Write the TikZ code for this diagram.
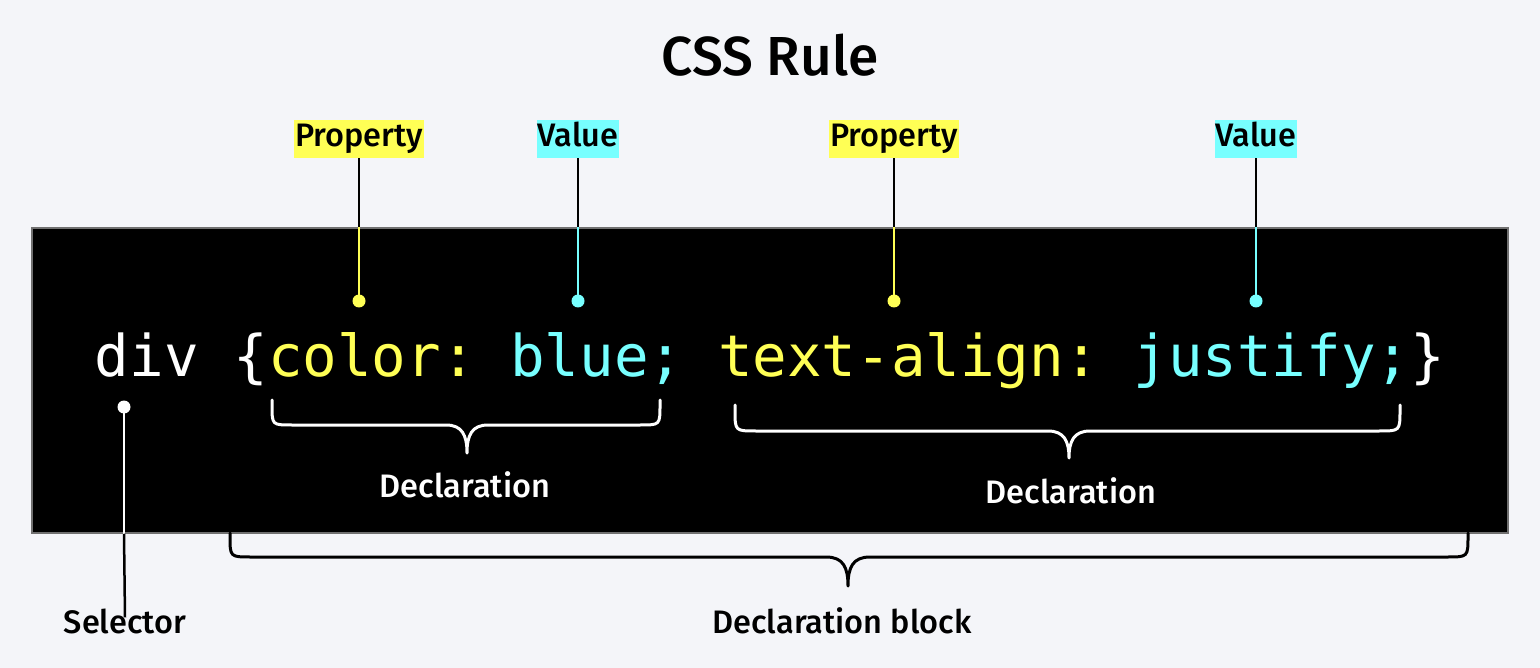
\documentclass[tikz,border=0pt]{standalone}
\usepackage{fontspec}
\setmainfont{Fira Sans}[BoldFont={Fira Sans Medium}]
\newfontfamily\codefont{DejaVu Sans Mono}
\definecolor{bg}{HTML}{F4F5F9}
\definecolor{cssyellow}{HTML}{FFFF55}
\definecolor{csscyan}{HTML}{77FFFF}
\definecolor{boxedge}{HTML}{707070}
\tikzset{
  lab/.style={inner xsep=1pt, inner ysep=0pt, text height=25pt, text depth=9pt, minimum height=38pt, font=\bfseries\fontsize{32.5}{36}\selectfont, text=black},
  plain/.style={inner sep=0pt, font=\bfseries\fontsize{32.5}{36}\selectfont},
  lead/.style={line width=2.5pt},
  bracepath/.style={line width=3pt, line cap=round, line join=round},
}
\begin{document}
\begin{tikzpicture}[x=1pt,y=-1pt]
\useasboundingbox[fill=bg] (0,0) rectangle (1540,668);
% title
\node[inner sep=0pt, font=\bfseries\fontsize{55}{60}\selectfont] (title) at (770,55) {CSS Rule};
% black box
\node[draw=boxedge, line width=1.5pt, fill=black, minimum width=1476pt, minimum height=305pt, inner sep=0pt] (box) at (770,380.5) {};
% bottom brace
\draw[bracepath, black] (230,533) -- (230,536) .. controls (230,557) .. (251,557) -- (826,557) .. controls (843,557) and (848,567) .. (848,586) .. controls (848,567) and (853,557) .. (870,557) -- (1447,557) .. controls (1468,557) .. (1468,536) -- (1468,533);
% code
\node[inner sep=0pt, anchor=base, font=\codefont\fontsize{57.5}{60}\selectfont\frenchspacing] (code) at (770,377) {\textcolor{white}{div \{}\textcolor{cssyellow}{color:} \textcolor{csscyan}{blue;} \textcolor{cssyellow}{text-align:} \textcolor{csscyan}{justify;}\textcolor{white}{\}}};
% labels
\node[lab, fill=cssyellow] (p1) at (359,139) {Property};
\node[lab, fill=csscyan] (v1) at (578,139) {Value};
\node[lab, fill=cssyellow] (p2) at (894,139) {Property};
\node[lab, fill=csscyan] (v2) at (1256,139) {Value};
% dots
\coordinate (dp1) at (359,301);
\coordinate (dv1) at (578,301);
\coordinate (dp2) at (894,301);
\coordinate (dv2) at (1256,301);
\coordinate (ds) at (124,407);
% leaders
\draw[lead, black] (p1.south) -- (p1.south |- box.north);
\draw[lead, cssyellow] (p1.south |- box.north) -- (dp1);
\draw[lead, black] (v1.south) -- (v1.south |- box.north);
\draw[lead, csscyan] (v1.south |- box.north) -- (dv1);
\draw[lead, black] (p2.south) -- (p2.south |- box.north);
\draw[lead, cssyellow] (p2.south |- box.north) -- (dp2);
\draw[lead, black] (v2.south) -- (v2.south |- box.north);
\draw[lead, csscyan] (v2.south |- box.north) -- (dv2);
\fill[cssyellow] (dp1) circle (6.5pt);
\fill[csscyan] (dv1) circle (6.5pt);
\fill[cssyellow] (dp2) circle (6.5pt);
\fill[csscyan] (dv2) circle (6.5pt);
% selector
\node[plain] (sel) at (125,621) {Selector};
\draw[lead, white] (ds) -- (ds |- box.south);
\draw[lead, black] (ds |- box.south) -- ([yshift=-9pt]sel.north);
\fill[white] (ds) circle (6.5pt);
% inner braces
\draw[bracepath, white] (272,400) -- (272,405) .. controls (272,425) .. (292,425) -- (446,425) .. controls (462,425) and (467,435) .. (467,453) .. controls (467,435) and (472,425) .. (488,425) -- (640,425) .. controls (660,425) .. (660,405) -- (660,400);
\draw[bracepath, white] (735,405) -- (735,410) .. controls (735,431) .. (756,431) -- (1048,431) .. controls (1064,431) and (1069,441) .. (1069,458) .. controls (1069,441) and (1074,431) .. (1090,431) -- (1379,431) .. controls (1400,431) .. (1400,410) -- (1400,405);
\node[plain, text=white] (decl1) at (465,485) {Declaration};
\node[plain, text=white] (decl2) at (1071,491) {Declaration};
\node[plain] (block) at (842,621) {Declaration block};
\end{tikzpicture}
\end{document}
